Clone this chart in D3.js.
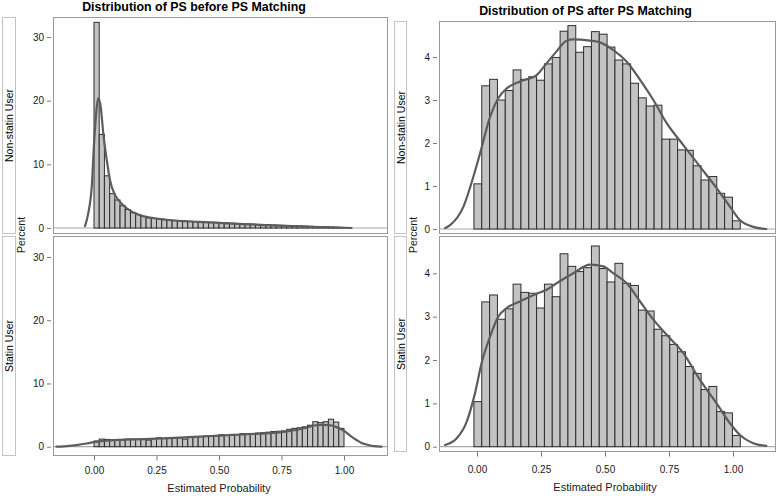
<!DOCTYPE html>
<html><head><meta charset="utf-8">
<script src="https://cdn.jsdelivr.net/npm/d3@7"></script>
<style>
body{margin:0;background:#fff;}
svg{display:block;font-family:Arial,"Liberation Sans",sans-serif;}
</style></head><body>
<svg id="chart" width="777" height="496"></svg>
<script>
// ---------------- DATA ----------------
const groups = ["Non-statin User", "Statin User"];
const panelTitles = ["Distribution of PS before PS Matching", "Distribution of PS after PS Matching"];
const xAxisLabel = "Estimated Probability";
const yAxisLabel = "Percent";
const xTicks = [0, 0.25, 0.5, 0.75, 1.0];
const beforeYTicks = [0, 10, 20, 30];
const afterYTicks = [0, 1, 2, 3, 4];

const beforeBinStart = 0, beforeBinWidth = 0.020833;
const afterBinStart = -0.012, afterBinWidth = 0.0306;

const beforeNonStatin = [32.3, 14.7, 8.2, 5.4, 4.4, 3.5, 2.9, 2.4, 2.1, 1.8,
  1.6, 1.5, 1.4, 1.3, 1.25, 1.2, 1.15, 1.1, 1.05, 1.0,
  0.96, 0.92, 0.9, 0.87, 0.84, 0.8, 0.76, 0.72, 0.68, 0.64,
  0.6, 0.57, 0.53, 0.5, 0.47, 0.44, 0.41, 0.38, 0.35, 0.32,
  0.29, 0.26, 0.23, 0.2, 0.17, 0.14, 0.11, 0.08];
const beforeStatin = [0.9, 1.2, 1.15, 1.1, 1.1, 1.05, 1.2, 1.2, 1.2, 1.2,
  1.05, 1.3, 1.4, 1.3, 1.35, 1.4, 1.4, 1.2, 1.5, 1.6,
  1.6, 1.7, 1.7, 1.75, 1.9, 1.8, 1.95, 1.9, 2.05, 2.05,
  2.1, 2.15, 2.2, 2.3, 2.4, 2.45, 2.5, 2.75, 2.9, 3.0,
  3.15, 3.4, 3.95, 3.8, 3.95, 4.35, 3.9, 2.9];
const afterNonStatin = [1.05, 3.33, 3.48, 3.0, 3.22, 3.70, 3.48, 3.54, 3.46, 3.84,
  3.99, 4.60, 4.73, 4.11, 4.24, 4.59, 4.53, 4.23, 3.93, 3.84,
  3.39, 3.05, 2.86, 2.88, 2.09, 2.09, 1.84, 1.83, 1.47, 1.14,
  1.22, 0.83, 0.74, 0.19];
const afterStatin = [1.04, 3.34, 3.50, 2.94, 3.18, 3.75, 3.56, 3.54, 3.20, 3.75,
  3.46, 4.45, 4.16, 4.04, 4.13, 4.63, 4.11, 3.80, 4.23, 3.77,
  3.72, 3.15, 3.13, 2.71, 2.56, 2.36, 2.19, 1.85, 1.69, 1.32,
  1.39, 0.81, 0.78, 0.26];

const beforeNonStatinDensity = [[-0.036,0.3],[-0.023,2.3],[-0.009,6.5],[0.001,13.8],[0.011,19],[0.017,20.4],
  [0.027,19],[0.037,14.9],[0.051,10.7],[0.064,7.5],[0.084,5.2],[0.104,4.1],[0.131,3.1],[0.184,2.0],
  [0.29,1.3],[0.42,0.95],[0.55,0.7],[0.69,0.45],[0.82,0.25],[0.95,0.1],[1.03,0.0]];
const beforeStatinDensity = [[-0.15,0],[-0.12,0.05],[-0.07,0.26],[-0.03,0.5],[0,0.72],[0.05,0.95],[0.1,1.08],
  [0.2,1.2],[0.3,1.35],[0.4,1.55],[0.5,1.75],[0.6,1.95],[0.7,2.15],[0.75,2.3],[0.8,2.6],[0.85,3.0],
  [0.88,3.35],[0.91,3.45],[0.94,3.4],[0.97,3.1],[1.0,2.5],[1.03,1.6],[1.05,1.06],[1.07,0.6],[1.09,0.35],
  [1.12,0.1],[1.15,0]];
const afterNonStatinDensity = [[-0.125,0.02],[-0.105,0.09],[-0.053,0.52],[-0.014,1.22],[0.012,1.76],[0.051,2.61],
  [0.083,3.04],[0.116,3.27],[0.168,3.43],[0.233,3.58],[0.266,3.81],[0.305,4.09],[0.35,4.38],[0.376,4.41],
  [0.441,4.38],[0.48,4.34],[0.533,4.16],[0.585,3.89],[0.637,3.47],[0.689,3.0],[0.741,2.46],[0.806,1.95],
  [0.871,1.45],[0.936,0.95],[0.988,0.52],[1.027,0.21],[1.079,0.05],[1.13,0]];
const afterStatinDensity = [[-0.125,0.04],[-0.08,0.19],[-0.04,0.58],[-0.008,1.23],[0.018,1.93],[0.051,2.54],
  [0.083,3.0],[0.116,3.2],[0.168,3.35],[0.233,3.53],[0.272,3.62],[0.311,3.77],[0.376,4.0],[0.441,4.2],
  [0.493,4.16],[0.533,4.0],[0.585,3.77],[0.637,3.35],[0.689,2.93],[0.741,2.58],[0.806,2.16],[0.871,1.54],
  [0.936,1.0],[0.988,0.54],[1.027,0.27],[1.079,0.08],[1.13,0.02]];

// ---------------- LAYOUT ----------------
const panels = [
  { title: panelTitles[0], titleX: 194, titleY: 10.5,
    frameX: [53.5, 387.5], xRange: [94, 344], stripX: [2.5, 15.5], percentX: 21,
    yTicks: beforeYTicks, binStart: beforeBinStart, binWidth: beforeBinWidth,
    tickPad: 6, labelY: 492,
    cells: [
      { top: 17.5, bottom: 233.5, yRange: [228, 37], values: beforeNonStatin, density: beforeNonStatinDensity },
      { top: 236.5, bottom: 455.5, yRange: [446.7, 257], values: beforeStatin, density: beforeStatinDensity }
    ] },
  { title: panelTitles[1], titleX: 585.5, titleY: 15,
    frameX: [439.5, 775.5], xRange: [477, 733], stripX: [394.5, 406.5], percentX: 413,
    yTicks: afterYTicks, binStart: afterBinStart, binWidth: afterBinWidth,
    tickPad: 9, labelY: 491,
    cells: [
      { top: 21.5, bottom: 233.5, yRange: [229, 57], values: afterNonStatin, density: afterNonStatinDensity },
      { top: 236.5, bottom: 451.5, yRange: [446.7, 273.3], values: afterStatin, density: afterStatinDensity }
    ] }
];

const svg = d3.select("#chart");
const defs = svg.append("defs");

panels.forEach((p, pi) => {
  const x = d3.scaleLinear().domain([0, 1]).range(p.xRange);
  const g = svg.append("g");

  g.append("text").attr("x", p.titleX).attr("y", p.titleY)
    .attr("text-anchor", "middle").attr("font-size", 12.4).attr("font-weight", "bold")
    .attr("fill", "#000").text(p.title);

  p.cells.forEach((c, ci) => {
    const yMax = d3.max(p.yTicks);
    const y = d3.scaleLinear().domain([0, yMax]).range(c.yRange);
    const clipId = `clip-${pi}-${ci}`;
    defs.append("clipPath").attr("id", clipId).append("rect")
      .attr("x", p.frameX[0]).attr("y", c.top)
      .attr("width", p.frameX[1] - p.frameX[0]).attr("height", c.bottom - c.top);

    // strip (row header)
    g.append("rect").attr("x", p.stripX[0]).attr("y", c.top)
      .attr("width", p.stripX[1] - p.stripX[0]).attr("height", c.bottom - c.top)
      .attr("fill", "none").attr("stroke", "#c4c4c4").attr("stroke-width", 1);
    const cy = (c.top + c.bottom) / 2, cx = (p.stripX[0] + p.stripX[1]) / 2;
    g.append("text").attr("transform", `translate(${cx + 0.5},${cy}) rotate(-90)`)
      .attr("text-anchor", "middle").attr("dy", "0.35em")
      .attr("font-size", 10.5).attr("fill", "#000").text(groups[ci]);

    const plot = g.append("g").attr("clip-path", `url(#${clipId})`);
    plot.append("line").attr("x1", p.frameX[0]).attr("x2", p.frameX[1])
      .attr("y1", y(0)).attr("y2", y(0)).attr("stroke", "#a8a8a8").attr("stroke-width", 1.2);
    plot.selectAll("rect.bar").data(c.values).join("rect").attr("class", "bar")
      .attr("x", (d, i) => x(p.binStart + i * p.binWidth))
      .attr("width", (d, i) => x(p.binStart + (i + 1) * p.binWidth) - x(p.binStart + i * p.binWidth))
      .attr("y", d => y(d)).attr("height", d => y(0) - y(d))
      .attr("fill", "#c3c3c3").attr("stroke", "#2e2e2e").attr("stroke-width", 1);
    const line = d3.line().x(d => x(d[0])).y(d => y(d[1])).curve(d3.curveMonotoneX);
    plot.append("path").datum(c.density).attr("d", line)
      .attr("fill", "none").attr("stroke", "#5c5c5c").attr("stroke-width", 2.2)
      .attr("stroke-linejoin", "round").attr("stroke-linecap", "round");

    g.append("rect").attr("x", p.frameX[0]).attr("y", c.top)
      .attr("width", p.frameX[1] - p.frameX[0]).attr("height", c.bottom - c.top)
      .attr("fill", "none").attr("stroke", "#9a9a9a").attr("stroke-width", 1);

    const ya = g.append("g").attr("transform", `translate(${p.frameX[0] - 2.5},0)`)
      .call(d3.axisLeft(y).tickValues(p.yTicks).tickSize(4).tickPadding(3).tickFormat(d3.format("d")));
    ya.select(".domain").remove();
    ya.selectAll("line").attr("stroke", "#7a7a7a");
    ya.selectAll("text").attr("font-size", 10).attr("fill", "#1a1a1a").attr("font-family", null);

    if (ci === p.cells.length - 1) {
      const xa = g.append("g").attr("transform", `translate(0,${c.bottom})`)
        .call(d3.axisBottom(x).tickValues(xTicks).tickSize(5).tickPadding(p.tickPad).tickFormat(d3.format(".2f")));
      xa.select(".domain").remove();
      xa.selectAll("line").attr("stroke", "#7a7a7a");
      xa.selectAll("text").attr("font-size", 10).attr("fill", "#1a1a1a").attr("font-family", null);
      g.append("text").attr("x", (p.xRange[0] + p.xRange[1]) / 2).attr("y", p.labelY)
        .attr("text-anchor", "middle").attr("font-size", 11).attr("fill", "#1a1a1a").text(xAxisLabel);
    }
  });

  const midY = (p.cells[0].bottom + p.cells[1].top) / 2;
  g.append("text").attr("transform", `translate(${p.percentX},${midY}) rotate(-90)`)
    .attr("text-anchor", "middle").attr("dy", "0.35em")
    .attr("font-size", 10.5).attr("fill", "#1a1a1a").text(yAxisLabel);
});
</script>
</body></html>
